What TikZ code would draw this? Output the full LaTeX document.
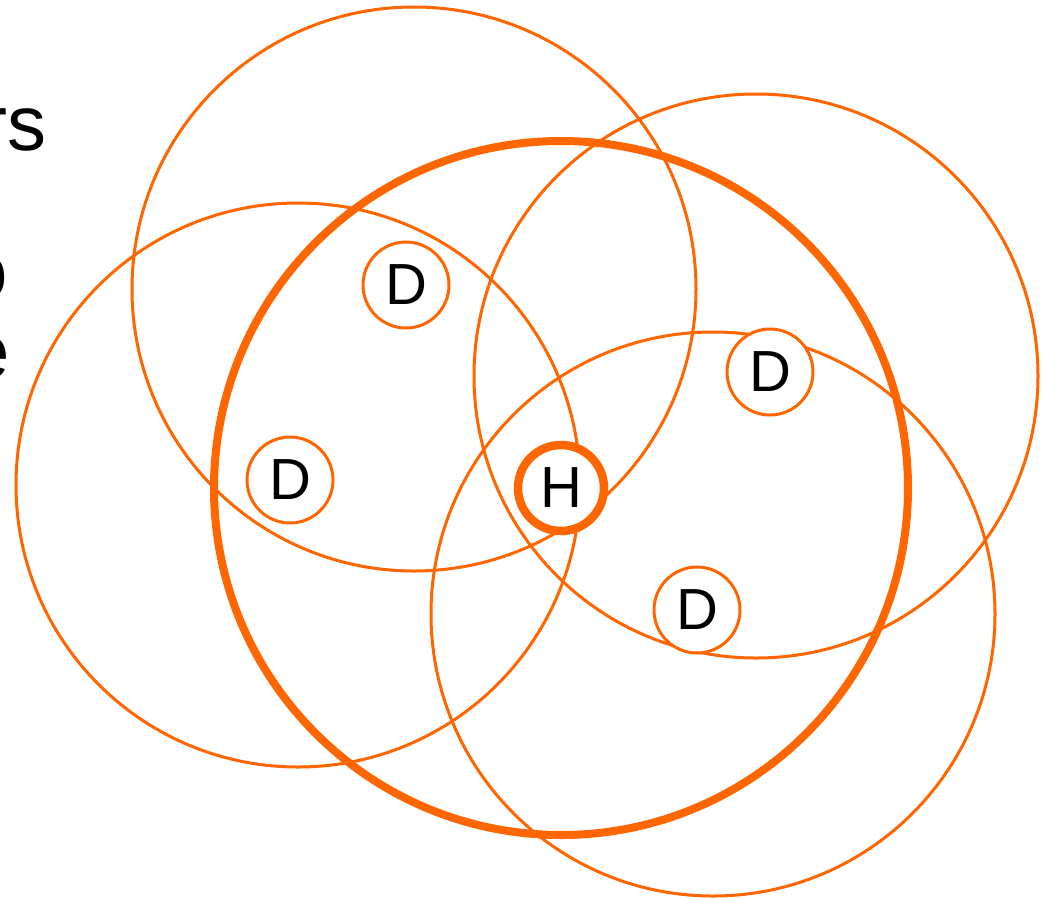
\documentclass[tikz,border=0pt]{standalone}
\usepackage{fontspec}
\setmainfont{Liberation Sans}
\definecolor{orng}{RGB}{255,102,0}
\begin{document}
\begin{tikzpicture}[x=1pt,y=-1pt,
  coverage/.style={draw=orng,line width=3pt},
  hostcoverage/.style={draw=orng,line width=8pt},
  dev/.style={circle,draw=orng,line width=3pt,minimum size=86pt,inner sep=0pt,fill=white,font=\fontsize{58}{60}\selectfont},
  host/.style={circle,draw=orng,line width=8.5pt,minimum size=86pt,inner sep=0pt,fill=white,font=\fontsize{58}{60}\selectfont},
  txt/.style={anchor=base east,inner sep=0pt,font=\fontsize{78}{90}\selectfont}]
\useasboundingbox (0,0) rectangle (1042,898);
% left text (cut off at the edge, as in the reference)
\node[txt] (t1) at (47,150) {rs};
\node[txt] (t2) at (8,298) {o};
\node[txt] (t3) at (10,378) {e};
% coverage circles
\draw[coverage] (414,289) circle (282);
\draw[coverage] (298,485) circle (282);
\draw[coverage] (756,376) circle (282);
\draw[coverage] (713,614) circle (282);
\draw[hostcoverage] (561,488) circle (347);
% devices
\node[dev] (d1) at (406,285) {D};
\node[dev] (d2) at (290,480) {D};
\node[dev] (d3) at (770,372) {D};
\node[dev] (d4) at (697,610) {D};
\node[host] (h) at (561,488) {H};
\end{tikzpicture}
\end{document}
